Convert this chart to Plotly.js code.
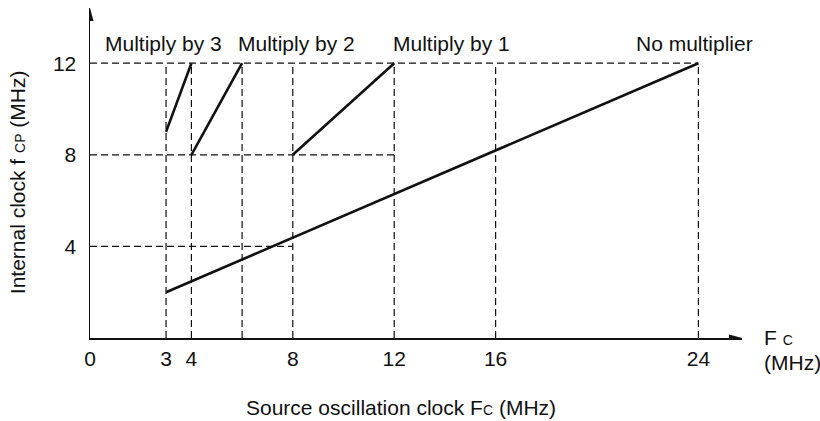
<!DOCTYPE html>
<html>
<head>
<meta charset="utf-8">
<script src="https://cdn.plot.ly/plotly-3.0.1.min.js"></script>
<style>html,body{margin:0;padding:0;background:#fff;}#chart{width:820px;height:421px;}</style>
</head>
<body>
<div id="chart"></div>
<script>
// ---- data ----
const seriesNames = ['Multiply by 3', 'Multiply by 2', 'Multiply by 1', 'No multiplier'];
const mul3X = [3, 4];   const mul3Y = [9, 12];
const mul2X = [4, 6];   const mul2Y = [8, 12];
const mul1X = [8, 12];  const mul1Y = [8, 12];
const noMulX = [3, 24]; const noMulY = [2, 12];

const xTickVals = [0, 3, 4, 8, 12, 16, 24];
const yTickVals = [4, 8, 12];
const guideX = [3, 4, 6, 8, 12, 16, 24];   // vertical dashed guides (from 0 up to guideTop)
const guideTop = 12;
const hGuideY = [4, 8, 12];               // horizontal dashed guides
const hGuideXEnd = [8, 12, 24];

// ---- build traces ----
const ink = '#111';
const dashStyle = {color: ink, width: 1.2, dash: '7px,4px'};
const traces = [];
guideX.forEach(function (gx) {
  traces.push({x: [gx, gx], y: [0, guideTop], mode: 'lines', line: dashStyle, hoverinfo: 'skip', showlegend: false});
});
hGuideY.forEach(function (gy, i) {
  traces.push({x: [0, hGuideXEnd[i]], y: [gy, gy], mode: 'lines', line: dashStyle, hoverinfo: 'skip', showlegend: false});
});
const seriesX = [mul3X, mul2X, mul1X, noMulX];
const seriesY = [mul3Y, mul2Y, mul1Y, noMulY];
seriesNames.forEach(function (n, i) {
  traces.push({x: seriesX[i], y: seriesY[i], name: n, mode: 'lines', line: {color: ink, width: 2.6}, showlegend: false});
});

const xMax = 25.72, yMax = 14.41;
const font = {family: 'Liberation Sans, Arial, Helvetica, sans-serif', size: 21, color: '#111'};
const small = function (t) { return '<span style="font-size:14px">' + t + '</span>'; };

const labelX = [0.1127, 0.3167, 0.5537, 0.9264];
const annotations = seriesNames.map(function (n, i) {
  return {text: n, xref: 'paper', yref: 'paper', x: labelX[i], y: 0.891, xanchor: 'center', yanchor: 'middle', showarrow: false};
});
annotations.push(
  {text: 'Source oscillation clock F' + small('C') + ' (MHz)', xref: 'paper', yref: 'paper', x: 0.477, y: -0.212, xanchor: 'center', yanchor: 'middle', showarrow: false},
  {text: 'Internal clock f ' + small('CP') + ' (MHz)', textangle: -90, xref: 'paper', yref: 'paper', x: -0.110, y: 0.473, xanchor: 'center', yanchor: 'middle', showarrow: false},
  {text: 'F ' + small('C'), xref: 'paper', yref: 'paper', x: 1.031, y: 0.003, xanchor: 'left', yanchor: 'middle', showarrow: false},
  {text: '(MHz)', xref: 'paper', yref: 'paper', x: 1.031, y: -0.073, xanchor: 'left', yanchor: 'middle', showarrow: false}
);

const layout = {
  width: 820, height: 421,
  margin: {l: 90, r: 78, t: 8, b: 83, pad: 0},
  paper_bgcolor: '#fff', plot_bgcolor: '#fff',
  font: font,
  showlegend: false,
  xaxis: {
    range: [0, xMax], tickvals: xTickVals, ticktext: xTickVals.map(String),
    showgrid: false, zeroline: false, showline: true, linecolor: ink, linewidth: 1.5,
    ticks: 'outside', ticklen: 1, tickcolor: 'rgba(0,0,0,0)', tickfont: font, fixedrange: true
  },
  yaxis: {
    range: [0, yMax], tickvals: yTickVals, ticktext: yTickVals.map(String),
    showgrid: false, zeroline: false, showline: true, linecolor: ink, linewidth: 1.5,
    ticks: 'outside', ticklen: 8, tickcolor: 'rgba(0,0,0,0)', tickfont: font, fixedrange: true
  },
  shapes: [
    {type: 'path', xref: 'x', yref: 'y', xsizemode: 'pixel', ysizemode: 'pixel', xanchor: xMax, yanchor: 0,
     path: 'M0,0 L-13,3.5 L-13,-3.5 Z', fillcolor: ink, line: {width: 0}},
    {type: 'path', xref: 'x', yref: 'y', xsizemode: 'pixel', ysizemode: 'pixel', xanchor: 0, yanchor: yMax,
     path: 'M0,0 L-3.5,-13 L3.5,-13 Z', fillcolor: ink, line: {width: 0}}
  ],
  annotations: annotations
};

Plotly.newPlot('chart', traces, layout, {staticPlot: true, displayModeBar: false});
</script>
</body>
</html>
